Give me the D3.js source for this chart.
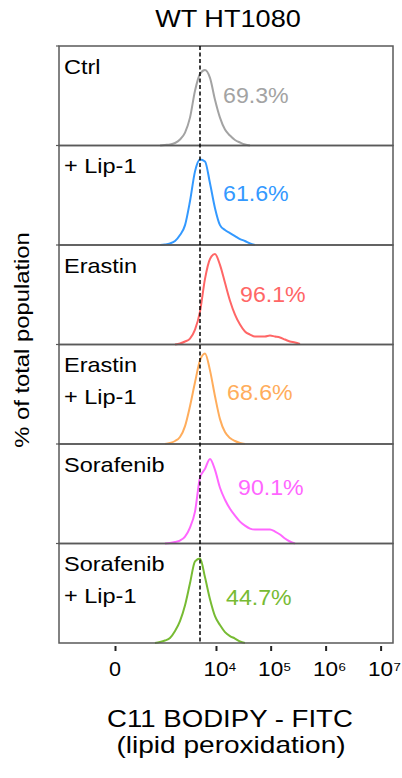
<!DOCTYPE html>
<html>
<head>
<meta charset="utf-8">
<script src="https://cdn.jsdelivr.net/npm/d3@7"></script>
<style>
  html, body { margin: 0; padding: 0; background: #fff; }
  svg text { font-family: "Liberation Sans", Arial, Helvetica, sans-serif; }
</style>
</head>
<body>
<svg id="chart" width="402" height="778"></svg>
<script>
// ---------- DATA ----------
const title = "WT HT1080";
const categories = ["Ctrl", "Lip-1", "Erastin", "Erastin+Lip-1", "Sorafenib", "Sorafenib+Lip-1"];
const labelLines = [["Ctrl"], ["+ Lip-1"], ["Erastin"], ["Erastin", "+ Lip-1"], ["Sorafenib"], ["Sorafenib", "+ Lip-1"]];
const percents = [69.3, 61.6, 96.1, 68.6, 90.1, 44.7];
const colors = ["#a3a3a3", "#3399ff", "#ff6666", "#ffad5c", "#ff66ff", "#77bb33"];
const gateValue = 5050; // dashed reference line (fluorescence)

// histogram bin centres (FITC fluorescence)
const bins = [490, 640, 830, 1050, 1330, 1680, 2100, 2630, 3270, 4070, 5050, 6260, 7750, 9590, 11850,
  14650, 18100, 22350, 27600, 34000, 42000, 51800, 63900, 78800, 97200, 120000, 148000, 182000, 224000, 277000, 342000];

// % of max count per bin (null = no events drawn)
const ctrl = [null, null, 0, 0.5, 1, 2.5, 6, 13, 28, 55, 72, 76, 68, 46, 28, 16, 10, 5.5, 3, 1, 0,
  null, null, null, null, null, null, null, null, null, null];
const lip1 = [null, null, 0, 0.5, 1.5, 4, 10, 20, 44, 74, 86, 84, 62, 37, 20, 15, 12, 9, 6, 4, 1.5, 0,
  null, null, null, null, null, null, null, null, null];
const erastin = [null, null, null, null, null, 0, 1, 3, 6, 15, 33, 66, 86, 91, 80, 62, 44, 30, 20, 13, 10,
  8, 8, 8, 9, 8, 7, 5, 3, 2, 0.5];
const erastinLip1 = [null, null, null, 0, 1, 3, 7, 18, 38, 62, 84, 91, 74, 48, 25, 12, 6, 3, 1, 0,
  null, null, null, null, null, null, null, null, null, null, null];
const sorafenib = [null, null, null, 0, 0.5, 1.5, 3, 7, 16, 32, 66, 75, 85, 74, 56, 44, 35, 28, 22, 18, 15,
  14, 14, 14, 14, 12, 9, 5, 2, 0, null];
const sorafenibLip1 = [null, 0, 1, 2.5, 5, 12, 22, 38, 60, 82, 85, 66, 44, 27, 18, 11, 7, 4.5, 1.5, 0,
  null, null, null, null, null, null, null, null, null, null, null];
const seriesValues = [ctrl, lip1, erastin, erastinLip1, sorafenib, sorafenibLip1];

const tickValues = [0, 1e4, 1e5, 1e6, 1e7];
const tickExponents = [null, "4", "5", "6", "7"];
const xTitle = ["C11 BODIPY - FITC", "(lipid peroxidation)"];
const yTitle = "% of total population";

// ---------- LAYOUT ----------
const plotLeft = 59, plotRight = 393, plotTop = 46, plotBottom = 643;
// label placement for the percentage annotations: [x start, baseline offset from panel top]
const pctLayout = [[223, 57], [223, 55], [240, 57], [227, 55], [238, 51], [226, 61.5]];

const svg = d3.select("#chart");

const x = d3.scaleSymlog().constant(148).domain([-1396, 1.68e7]).range([plotLeft, plotRight]);
const band = d3.scaleBand().domain(categories).range([plotTop, plotBottom]).paddingInner(0).paddingOuter(0);
const bh = band.bandwidth();

function addText(g, str, tx, ty, size, sx, anchor, fill) {
  return g.append("text")
    .attr("transform", `translate(${tx},${ty}) scale(${sx},1)`)
    .attr("text-anchor", anchor)
    .style("font-size", size + "px")
    .attr("fill", fill || "#000")
    .text(str);
}

// title
addText(svg, title, 228, 27, 24, 1.13, "middle");

// panels
categories.forEach((cat, i) => {
  const top = band(cat);
  const y = d3.scaleLinear().domain([0, 100]).range([top + bh, top + bh - 99.5]);
  const g = svg.append("g");

  const pts = bins.map((b, j) => ({ v: b, c: seriesValues[i][j] }));
  const line = d3.line()
    .defined(d => d.c !== null)
    .x(d => x(d.v))
    .y(d => y(d.c))
    .curve(d3.curveMonotoneX);
  g.append("path")
    .datum(pts)
    .attr("d", line)
    .attr("fill", "none")
    .attr("stroke", colors[i])
    .attr("stroke-width", 2)
    .attr("stroke-linejoin", "round");

  // category label
  labelLines[i].forEach((t, k) => {
    addText(g, t, 64, top + 27.5 + k * 31.5, 21, 1.12, "start", "#000");
  });
  // percentage
  addText(g, percents[i].toFixed(1) + "%", pctLayout[i][0], top + pctLayout[i][1], 22.5, 1.03, "start", colors[i]);
});

// panel borders
categories.forEach(cat => {
  svg.append("rect")
    .attr("x", plotLeft).attr("y", band(cat))
    .attr("width", plotRight - plotLeft).attr("height", bh)
    .attr("fill", "none").attr("stroke", "#595959").attr("stroke-width", 1.5);
  // small left ticks
  svg.append("line")
    .attr("x1", plotLeft - 3).attr("x2", plotLeft)
    .attr("y1", band(cat)).attr("y2", band(cat))
    .attr("stroke", "#595959").attr("stroke-width", 1.2);
});

// dashed gate line
svg.append("line")
  .attr("x1", x(gateValue)).attr("x2", x(gateValue))
  .attr("y1", plotTop).attr("y2", plotBottom)
  .attr("stroke", "#000").attr("stroke-width", 1.5)
  .attr("stroke-dasharray", "4,2.5");

// x axis ticks
const axis = d3.axisBottom(x).tickValues(tickValues).tickSize(8).tickFormat(() => "");
const ag = svg.append("g").attr("transform", `translate(0,${plotBottom})`).call(axis);
ag.select(".domain").remove();
ag.selectAll(".tick line").attr("stroke", "#222").attr("stroke-width", 2).attr("y1", 3);

// tick labels
tickValues.forEach((v, i) => {
  const tx = x(v);
  if (tickExponents[i] === null) {
    addText(svg, "0", tx, 676, 20, 1.08, "middle");
  } else {
    addText(svg, "10", tx, 676, 20, 1.13, "middle");
    addText(svg, tickExponents[i], tx + 12.8, 670.5, 11.5, 1.15, "start");
  }
});

// axis titles
addText(svg, xTitle[0], 230, 727, 23, 1.2, "middle");
addText(svg, xTitle[1], 231, 753, 23, 1.22, "middle");

svg.append("text")
  .attr("transform", `translate(28.8,340) rotate(-90) scale(1.19,1)`)
  .attr("text-anchor", "middle")
  .style("font-size", "20px")
  .text(yTitle);
</script>
</body>
</html>
